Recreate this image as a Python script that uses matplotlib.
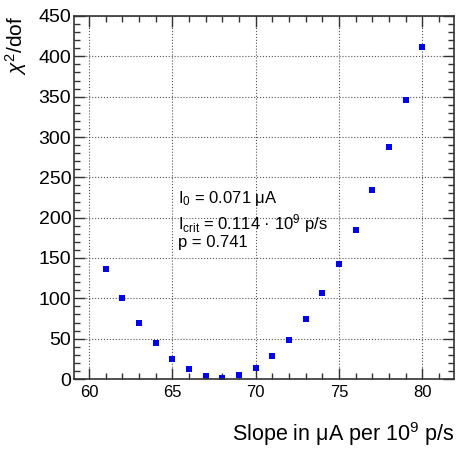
import numpy as np
import matplotlib.pyplot as plt
from matplotlib.ticker import MultipleLocator

plt.rcParams['font.family'] = ['Liberation Sans', 'DejaVu Sans']
plt.rcParams['mathtext.fontset'] = 'custom'
plt.rcParams['mathtext.rm'] = 'Liberation Sans'
plt.rcParams['mathtext.it'] = 'Liberation Sans:italic'

slope = np.arange(61, 81)
chi2 = [136, 100, 70, 45, 25, 12, 4, 1.5, 5, 14,
        28, 48, 74, 106, 143, 185, 234, 287, 346, 411]

fig = plt.figure(figsize=(4.57, 4.49), dpi=100)
ax = fig.add_axes([74/457, 70/449, 380/457, 363/449])

ax.plot(slope, chi2, 's', color='#0000ff', markersize=4.0, markeredgewidth=0)

ax.set_xlim(59.1, 81.9)
ax.set_ylim(0, 450)
ax.xaxis.set_major_locator(MultipleLocator(5))
ax.xaxis.set_minor_locator(MultipleLocator(1))
ax.yaxis.set_major_locator(MultipleLocator(50))
ax.yaxis.set_minor_locator(MultipleLocator(10))
ax.tick_params(which='both', direction='in', top=True, right=True, color='#333333')
ax.tick_params(which='major', length=8, width=1)
ax.tick_params(which='minor', length=4, width=1)
ax.tick_params(axis='y', labelsize=14, pad=2)
ax.tick_params(axis='x', labelsize=12, pad=4)
for s in ax.spines.values():
    s.set_color('#333333')
    s.set_linewidth(1.2)
ax.grid(True, which='major', linestyle=':', color='#555555', linewidth=0.8)

ax.set_xlabel('Slope in μA per 10$^{9}$ p/s', fontsize=15.5, loc='right', labelpad=15)
ax.set_ylabel(r'$\chi^{2}$/dof', fontsize=15, loc='top', labelpad=7)

ax.text(65.35, 224, r'I$_{0}$ = 0.071 μA', fontsize=12, va='center')
ax.text(65.35, 193, r'I$_{\mathrm{crit}}$ = 0.114 · 10$^{9}$ p/s', fontsize=12, va='center')
ax.text(65.35, 169, 'p = 0.741', fontsize=12, va='center')

fig.savefig('out.png', dpi=100)
